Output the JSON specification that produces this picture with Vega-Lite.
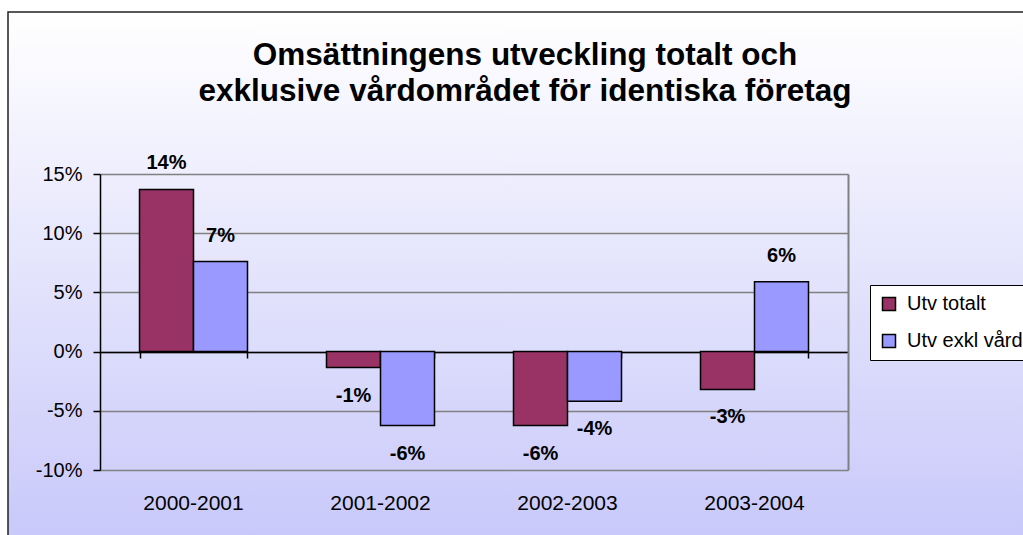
{
  "$schema": "https://vega.github.io/schema/vega-lite/v6.json",
  "width": 1030,
  "height": 530,
  "autosize": {"type": "none"},
  "padding": {"left": 8, "top": 12, "right": 0, "bottom": 0},
  "background": "white",
  "config": {
    "font": "Liberation Sans",
    "view": {
      "fill": {"gradient": "linear", "x1": 0, "y1": 0, "x2": 0, "y2": 1, "stops": [{"offset": 0, "color": "#ffffff"}, {"offset": 1, "color": "#c8c8fa"}]},
      "stroke": "#222222",
      "strokeWidth": 1.5
    }
  },
  "title": {
    "text": ["Omsättningens utveckling totalt och", "exklusive vårdområdet för identiska företag"],
    "font": "Liberation Sans",
    "fontSize": 31.5,
    "fontWeight": "bold",
    "color": "black",
    "lineHeight": 36,
    "anchor": "middle",
    "frame": "group",
    "baseline": "alphabetic",
    "offset": 0,
    "dy": 120,
    "dx": 2
  },
  "data": {
    "values": [
      {"period": "2000-2001", "series": "Utv totalt", "value": 0.137, "label": "14%"},
      {"period": "2000-2001", "series": "Utv exkl vårdområdet", "value": 0.076, "label": "7%"},
      {"period": "2001-2002", "series": "Utv totalt", "value": -0.0135, "label": "-1%"},
      {"period": "2001-2002", "series": "Utv exkl vårdområdet", "value": -0.0625, "label": "-6%"},
      {"period": "2002-2003", "series": "Utv totalt", "value": -0.0625, "label": "-6%"},
      {"period": "2002-2003", "series": "Utv exkl vårdområdet", "value": -0.042, "label": "-4%"},
      {"period": "2003-2004", "series": "Utv totalt", "value": -0.032, "label": "-3%"},
      {"period": "2003-2004", "series": "Utv exkl vårdområdet", "value": 0.059, "label": "6%"}
    ]
  },
  "resolve": {"axis": {"x": "independent", "y": "independent"}},
  "layer": [
    {
      "mark": {"type": "bar", "stroke": "black", "strokeWidth": 1.5},
      "encoding": {
        "x": {
          "field": "period", "type": "nominal",
          "scale": {"range": [92, 840], "paddingInner": 0.4225, "paddingOuter": 0.21125},
          "axis": {"orient": "bottom", "offset": -72, "domain": false, "ticks": false, "labelFontSize": 21, "labelColor": "black", "labelPadding": 22, "labelAngle": 0, "title": null, "grid": false}
        },
        "xOffset": {"field": "series", "type": "nominal", "scale": {"domain": ["Utv totalt", "Utv exkl vårdområdet"], "paddingInner": 0, "paddingOuter": 0}},
        "y": {
          "field": "value", "type": "quantitative",
          "scale": {"domain": [-0.1, 0.15], "range": [458, 162], "nice": false, "zero": false},
          "axis": {"orient": "left", "offset": -92, "values": [-0.1, -0.05, 0, 0.05, 0.1, 0.15], "format": ".0%", "labelExpr": "replace(datum.label, '\u2212', '-')", "grid": true, "gridColor": "#808080", "gridWidth": 1.5, "domainColor": "black", "domainWidth": 1.5, "tickColor": "black", "tickWidth": 1.5, "tickSize": 7, "labelFontSize": 20, "labelColor": "black", "labelPadding": 11, "title": null}
        },
        "color": {
          "field": "series", "type": "nominal",
          "scale": {"domain": ["Utv totalt", "Utv exkl vårdområdet"], "range": ["#993366", "#9999ff"]},
          "legend": {"orient": "none", "legendX": 862, "legendY": 273, "title": null, "fillColor": "white", "strokeColor": "black", "padding": 9, "labelFontSize": 20, "labelColor": "black", "labelLimit": 400, "labelOffset": 8, "symbolType": "square", "symbolSize": 169, "symbolStrokeColor": "black", "symbolStrokeWidth": 1.5, "rowPadding": 17}
        }
      }
    },
    {
      "transform": [{"filter": "datum.value >= 0"}],
      "mark": {"type": "text", "fontSize": 20, "fontWeight": "bold", "color": "black", "baseline": "middle", "dy": -26},
      "encoding": {
        "x": {
          "field": "period", "type": "nominal",
          "axis": {"orient": "bottom", "offset": -190, "labels": false, "domainColor": "black", "domainWidth": 1.5, "ticks": true, "tickBand": "extent", "tickSize": 6, "tickColor": "black", "tickWidth": 1.5, "grid": false, "title": null}
        },
        "xOffset": {"field": "series", "type": "nominal"},
        "y": {
          "field": "value", "type": "quantitative",
          "axis": {"orient": "right", "offset": -190, "labels": false, "ticks": false, "grid": false, "domainColor": "#808080", "domainWidth": 2, "title": null}
        },
        "text": {"field": "label"}
      }
    },
    {
      "transform": [{"filter": "datum.value < 0"}],
      "mark": {"type": "text", "fontSize": 20, "fontWeight": "bold", "color": "black", "baseline": "middle", "dy": 28},
      "encoding": {
        "x": {"field": "period", "type": "nominal", "axis": null},
        "xOffset": {"field": "series", "type": "nominal"},
        "y": {"field": "value", "type": "quantitative", "axis": null},
        "text": {"field": "label"}
      }
    }
  ]
}
